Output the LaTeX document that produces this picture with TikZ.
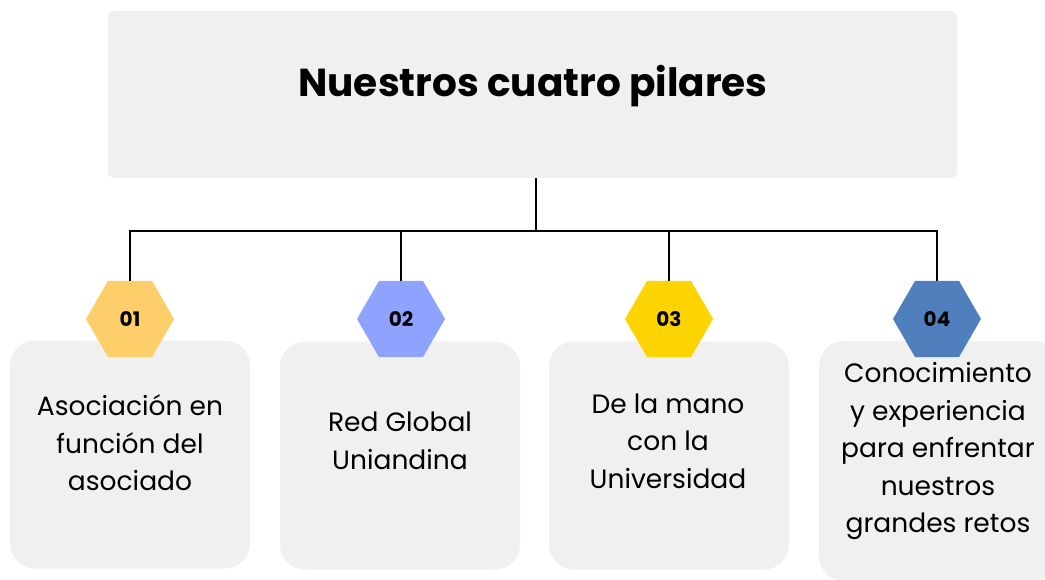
\documentclass[tikz,border=0pt]{standalone}
\usepackage{fontspec}
\setmainfont{Poppins}
\usetikzlibrary{shapes.geometric,positioning}
\definecolor{boxgray}{HTML}{F0F0F0}
\definecolor{hexone}{HTML}{FDCE69}
\definecolor{hextwo}{HTML}{8FA3FE}
\definecolor{hexthree}{HTML}{FCD401}
\definecolor{hexfour}{HTML}{4F80BD}
\tikzstyle{card}=[fill=boxgray,rounded corners=25pt,minimum width=240pt,
  minimum height=228pt,inner sep=0pt]
\tikzstyle{hex}=[regular polygon,regular polygon sides=6,minimum size=88pt,
  inner sep=0pt,font=\fontsize{20}{20}\selectfont\bfseries]
\tikzstyle{cardtext}=[align=center,font=\fontsize{26.5}{37.5}\selectfont]
\tikzstyle{link}=[line width=1.6pt]

\begin{document}
\begin{tikzpicture}[x=1pt,y=-1pt]
  \useasboundingbox (0,0) rectangle (1045,580);
  \clip (0,0) rectangle (1045,580);

  \node[fill=boxgray,rounded corners=6pt,minimum width=849pt,
    minimum height=167pt] (top) at (532.5,94.5) {};
  \node[font=\fontsize{39}{39}\selectfont\bfseries] (title) at (533,86)
  {Nuestros cuatro pilares};

  \node[card] (c1) at (130,454.5) {};
  \node[card] (c2) at (400,455.5) {};
  \node[card] (c3) at (669,455.5) {};
  \node[card,minimum height=240pt] (c4) at (939,461) {};

  \node[cardtext] (t1) at (130,443) {Asociación en\\función del\\asociado};
  \node[cardtext] (t2) at (400,441) {Red Global\\Uniandina};
  \node[cardtext] (t3) at (668,441) {De la mano\\con la\\Universidad};
  \node[cardtext] (t4) at (938,451) {Conocimiento\\y experiencia\\para enfrentar\\nuestros\\grandes retos};

  \node[hex,fill=hexone] (h1) at (130,319) {01};
  \node[hex,fill=hextwo] (h2) at (401,319) {02};
  \node[hex,fill=hexthree] (h3) at (669,319) {03};
  \node[hex,fill=hexfour] (h4) at (937,319) {04};

  \coordinate (bus) at (536,231);
  \draw[link] (top.south -| bus) -- (bus);
  \draw[link] (h1.north) |- (bus);
  \draw[link] (h2.north) |- (bus);
  \draw[link] (h3.north) |- (bus);
  \draw[link] (h4.north) |- (bus);
\end{tikzpicture}
\end{document}
